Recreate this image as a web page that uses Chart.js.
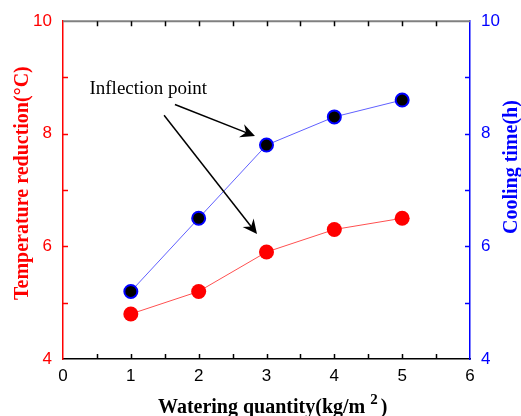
<!DOCTYPE html>
<html>
<head>
<meta charset="utf-8">
<script src="https://cdn.jsdelivr.net/npm/chart.js@4"></script>
<style>
  html, body { margin: 0; padding: 0; background: #fff; }
  #wrap { width: 521px; height: 416px; }
</style>
</head>
<body>
<div id="wrap"><canvas id="chart" width="521" height="416"></canvas></div>
<script>
const waterQty = [1, 2, 3, 4, 5];
const tempReduction = [4.8, 5.2, 5.9, 6.3, 6.5];
const coolingTime = [5.2, 6.5, 7.8, 8.3, 8.6];

const xRange = [0, 6];
const yRange = [4, 10];

const noteText = 'Inflection point';
const notePos = [0.39, 8.7];
// arrows: [fromX, fromY, toX, toY] in x / left-axis units
const arrows = [
  [1.65, 8.52, 2.83, 7.96],
  [1.49, 8.33, 2.86, 6.22]
];

const RED = '#ff0000';
const BLUE = '#0000ff';

const toPoints = (xs, ys) => xs.map((x, i) => ({ x: x, y: ys[i] }));

// inward ticks, top frame line, annotation, axis titles
const decor = {
  id: 'decor',
  afterDraw(chart) {
    const ctx = chart.ctx;
    const a = chart.chartArea;
    const x = chart.scales.x, yl = chart.scales.y, yr = chart.scales.y1;
    ctx.save();

    ctx.strokeStyle = '#808080';
    ctx.lineWidth = 2;
    ctx.beginPath();
    ctx.moveTo(a.left, a.top);
    ctx.lineTo(a.right, a.top);
    ctx.stroke();

    ctx.lineWidth = 1.5;
    ctx.strokeStyle = '#000';
    for (let v = xRange[0] + 0.5; v < xRange[1]; v += 0.5) {
      const px = Math.round(x.getPixelForValue(v)) + 0.5;
      ctx.beginPath();
      ctx.moveTo(px, a.bottom);
      ctx.lineTo(px, a.bottom - 5);
      ctx.moveTo(px, a.top);
      ctx.lineTo(px, a.top + 5);
      ctx.stroke();
    }
    for (let v = yRange[0] + 1; v < yRange[1]; v++) {
      const py = Math.round(yl.getPixelForValue(v)) + 0.5;
      ctx.strokeStyle = RED;
      ctx.beginPath();
      ctx.moveTo(a.left, py);
      ctx.lineTo(a.left + 5, py);
      ctx.stroke();
      const py2 = Math.round(yr.getPixelForValue(v)) + 0.5;
      ctx.strokeStyle = BLUE;
      ctx.beginPath();
      ctx.moveTo(a.right, py2);
      ctx.lineTo(a.right - 5, py2);
      ctx.stroke();
    }

    // annotation
    ctx.fillStyle = '#000';
    ctx.font = '19px "Liberation Serif"';
    ctx.textAlign = 'left';
    ctx.textBaseline = 'alphabetic';
    ctx.fillText(noteText, x.getPixelForValue(notePos[0]), yl.getPixelForValue(notePos[1]));
    arrows.forEach(ar => {
      const x0 = x.getPixelForValue(ar[0]), y0 = yl.getPixelForValue(ar[1]);
      const x1 = x.getPixelForValue(ar[2]), y1 = yl.getPixelForValue(ar[3]);
      const ang = Math.atan2(y1 - y0, x1 - x0);
      const len = 16, half = 0.45;
      ctx.strokeStyle = '#000';
      ctx.lineWidth = 1.5;
      ctx.beginPath();
      ctx.moveTo(x0, y0);
      ctx.lineTo(x1 - Math.cos(ang) * 8, y1 - Math.sin(ang) * 8);
      ctx.stroke();
      ctx.beginPath();
      ctx.moveTo(x1, y1);
      ctx.lineTo(x1 - len * Math.cos(ang - half), y1 - len * Math.sin(ang - half));
      ctx.lineTo(x1 - 0.6 * len * Math.cos(ang), y1 - 0.6 * len * Math.sin(ang));
      ctx.lineTo(x1 - len * Math.cos(ang + half), y1 - len * Math.sin(ang + half));
      ctx.closePath();
      ctx.fill();
    });

    // axis titles
    ctx.font = 'bold 20px "Liberation Serif"';
    ctx.textBaseline = 'middle';
    ctx.textAlign = 'center';
    ctx.save();
    ctx.translate(23, a.top + (a.bottom - a.top) / 2 - 7);
    ctx.rotate(-Math.PI / 2);
    ctx.fillStyle = RED;
    ctx.fillText('Temperature reduction(\u00B0C)', 0, 0);
    ctx.restore();

    ctx.save();
    ctx.translate(512, a.top + (a.bottom - a.top) / 2 - 23);
    ctx.rotate(-Math.PI / 2);
    ctx.fillStyle = BLUE;
    ctx.fillText('Cooling time(h)', 0, 0);
    ctx.restore();

    ctx.fillStyle = '#000';
    ctx.textAlign = 'left';
    ctx.textBaseline = 'alphabetic';
    const main = 'Watering quantity(kg/m';
    let tx = 158;
    const ty = 413;
    ctx.fillText(main, tx, ty);
    tx += ctx.measureText(main).width + 5;
    ctx.font = 'bold 15px "Liberation Serif"';
    ctx.fillText('2', tx, ty - 9);
    tx += ctx.measureText('2').width + 3;
    ctx.font = 'bold 20px "Liberation Serif"';
    ctx.fillText(')', tx, ty);

    ctx.restore();
  }
};

const tickFont = { family: '"Liberation Sans", Arial', size: 17 };

new Chart(document.getElementById('chart'), {
  type: 'line',
  data: {
    datasets: [
      {
        label: 'Temperature reduction',
        data: toPoints(waterQty, tempReduction),
        yAxisID: 'y',
        borderColor: '#ff5050',
        borderWidth: 1,
        backgroundColor: RED,
        pointBackgroundColor: RED,
        pointBorderColor: RED,
        pointBorderWidth: 0,
        pointRadius: 7.5,
        pointHoverRadius: 7.5
      },
      {
        label: 'Cooling time',
        data: toPoints(waterQty, coolingTime),
        yAxisID: 'y1',
        borderColor: '#6060ff',
        borderWidth: 1,
        backgroundColor: '#000',
        pointBackgroundColor: '#000',
        pointBorderColor: BLUE,
        pointBorderWidth: 2,
        pointRadius: 6.5,
        pointHoverRadius: 6.5
      }
    ]
  },
  options: {
    responsive: false,
    animation: false,
    layout: { padding: { top: 18, right: 0, left: 0, bottom: 0 } },
    plugins: {
      legend: { display: false },
      tooltip: { enabled: false }
    },
    scales: {
      x: {
        type: 'linear',
        min: xRange[0],
        max: xRange[1],
        afterFit(s) { s.height = 57; },
        grid: { drawOnChartArea: false, drawTicks: false },
        border: { color: '#000', width: 1.5 },
        ticks: { stepSize: 1, color: '#000', font: tickFont, padding: 7 }
      },
      y: {
        position: 'left',
        min: yRange[0],
        max: yRange[1],
        afterFit(s) { s.width = 63; },
        grid: { drawOnChartArea: false, drawTicks: false },
        border: { color: RED, width: 1.5 },
        ticks: {
          stepSize: 1,
          color: RED,
          font: tickFont,
          padding: 11,
          callback: v => (v % 2 === 0 ? v : '')
        }
      },
      y1: {
        position: 'right',
        min: yRange[0],
        max: yRange[1],
        afterFit(s) { s.width = 51; },
        grid: { drawOnChartArea: false, drawTicks: false },
        border: { color: BLUE, width: 1.5 },
        ticks: {
          stepSize: 1,
          color: BLUE,
          font: tickFont,
          padding: 11,
          callback: v => (v % 2 === 0 ? v : '')
        }
      }
    }
  },
  plugins: [decor]
});
</script>
</body>
</html>
